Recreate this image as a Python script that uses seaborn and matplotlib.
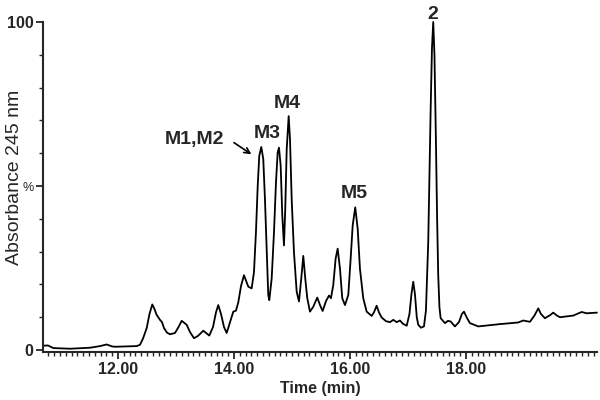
import pandas as pd
import matplotlib.pyplot as plt
import seaborn as sns
from matplotlib.ticker import MultipleLocator, FixedLocator, FixedFormatter

# retention time (min) and absorbance (% of max)
time_min = [
    10.707, 10.793, 10.884, 11.172, 11.517, 11.690, 11.805, 11.897, 11.948, 12.322,
    12.379, 12.431, 12.495, 12.543, 12.591, 12.629, 12.667, 12.724, 12.759, 12.793,
    12.845, 12.897, 12.983, 13.043, 13.098, 13.184, 13.241, 13.310, 13.379, 13.471,
    13.574, 13.638, 13.690, 13.729, 13.776, 13.828, 13.874, 13.931, 13.988, 14.034,
    14.074, 14.121, 14.172, 14.247, 14.305, 14.345, 14.379, 14.409, 14.436, 14.471,
    14.505, 14.534, 14.564, 14.591, 14.609, 14.650, 14.690, 14.724, 14.753, 14.776,
    14.805, 14.833, 14.862, 14.884, 14.909, 14.943, 14.966, 14.995, 15.034, 15.081,
    15.121, 15.160, 15.195, 15.229, 15.264, 15.310, 15.367, 15.436, 15.483, 15.529,
    15.586, 15.638, 15.672, 15.712, 15.753, 15.788, 15.828, 15.867, 15.914, 15.971,
    16.012, 16.047, 16.091, 16.133, 16.172, 16.229, 16.288, 16.374, 16.414, 16.460,
    16.500, 16.547, 16.621, 16.690, 16.747, 16.805, 16.862, 16.914, 16.978, 17.026,
    17.060, 17.091, 17.121, 17.152, 17.178, 17.224, 17.276, 17.310, 17.350, 17.391,
    17.414, 17.436, 17.457, 17.483, 17.503, 17.522, 17.543, 17.564, 17.638, 17.690,
    17.736, 17.810, 17.879, 17.931, 17.966, 18.017, 18.069, 18.212, 18.586, 18.902,
    18.988, 19.103, 19.181, 19.247, 19.293, 19.362, 19.448, 19.505, 19.569, 19.621,
    19.850, 19.995, 20.081, 20.259,
]
absorbance = [
    1.3, 1.4, 0.6, 0.4, 0.7, 1.2, 1.7, 1.1, 1.0, 1.2,
    1.6, 3.5, 6.7, 11.0, 13.9, 12.5, 10.7, 9.2, 8.5, 6.7,
    5.3, 4.8, 5.2, 7.0, 8.9, 7.7, 5.5, 3.6, 4.3, 5.9,
    4.4, 7.0, 11.5, 13.7, 11.0, 7.0, 5.2, 8.5, 11.7, 12.0,
    14.5, 19.5, 22.8, 19.3, 18.8, 23.8, 36.0, 50.0, 59.2, 61.9,
    58.2, 46.0, 30.9, 16.8, 15.2, 21.8, 36.0, 51.0, 60.2, 61.7,
    56.2, 41.0, 31.9, 43.0, 61.2, 71.3, 64.2, 46.0, 29.9, 17.8,
    14.8, 21.8, 28.7, 21.8, 15.8, 11.7, 13.2, 16.0, 13.7, 11.9,
    14.9, 16.6, 15.8, 19.8, 27.9, 30.9, 24.8, 15.8, 13.7, 16.8,
    27.9, 38.0, 43.5, 37.0, 24.8, 15.8, 11.7, 10.4, 11.5, 13.5,
    11.5, 9.9, 8.8, 8.5, 9.2, 8.5, 9.0, 8.0, 7.4, 11.0,
    17.0, 20.8, 17.0, 10.0, 7.7, 6.8, 7.2, 12.0, 33.0, 73.0,
    92.0, 100.0, 90.0, 63.0, 40.0, 22.8, 13.0, 9.7, 8.2, 8.9,
    8.7, 7.2, 8.5, 11.0, 11.7, 9.8, 8.2, 7.2, 7.9, 8.4,
    9.0, 8.6, 10.5, 12.7, 11.0, 9.7, 10.6, 11.4, 10.5, 10.0,
    10.5, 11.6, 11.2, 11.4,
]

peak_labels = ["M1,M2", "M3", "M4", "M5", "2"]
label_time = [13.31, 14.57, 14.92, 16.07, 17.42]
label_abs = [64.2, 66.0, 75.2, 47.7, 102.4]

df = pd.DataFrame({"Time": time_min, "Abs": absorbance})

sns.set_style("ticks")
plt.rcParams["font.family"] = ["Liberation Sans", "DejaVu Sans"]

fig = plt.figure(figsize=(6, 4), dpi=100)
ax = fig.add_axes([0.072, 0.12, 0.923, 0.825])

sns.lineplot(data=df, x="Time", y="Abs", color="black", linewidth=1.3, ax=ax)
for line in ax.get_lines():
    line.set_clip_on(False)

ax.set_xlim(10.71, 20.26)
ax.set_ylim(-0.6, 100)

ax.xaxis.set_minor_locator(MultipleLocator(0.1))
ax.set_xticks([12, 14, 16, 18])
ax.set_xticklabels(["12.00", "14.00", "16.00", "18.00"], fontweight="bold", fontsize=11.5)

ax.yaxis.set_major_locator(FixedLocator([0, 50, 100]))
ax.yaxis.set_major_formatter(FixedFormatter(["0", "%", "100"]))
ax.yaxis.set_minor_locator(MultipleLocator(10))
for lab in ax.get_yticklabels():
    if lab.get_text() == "%":
        lab.set_fontweight("normal")
        lab.set_fontsize(9)
    else:
        lab.set_fontweight("bold")
        lab.set_fontsize(11.5)

ax.tick_params(axis="both", which="major", length=5, width=1.3, pad=2)
ax.tick_params(axis="both", which="minor", length=3, width=1.0)

ax.set_xlabel("Time (min)", fontweight="bold", fontsize=11.5, labelpad=3)
ax.set_ylabel("Absorbance 245 nm", fontsize=14)
ax.yaxis.set_label_coords(-0.037, 0.53)

sns.despine(ax=ax)
ax.spines["left"].set_linewidth(1.5)
ax.spines["bottom"].set_linewidth(1.5)

for name, tx, ty in zip(peak_labels, label_time, label_abs):
    ax.text(tx, ty, name, ha="center", va="center", fontsize=14,
            fontweight="bold", clip_on=False)

ax.annotate("", xy=(14.34, 59.2), xytext=(13.96, 63.7),
            arrowprops=dict(arrowstyle="->", color="black", lw=1.2))

fig.savefig("out.png", dpi=100)
